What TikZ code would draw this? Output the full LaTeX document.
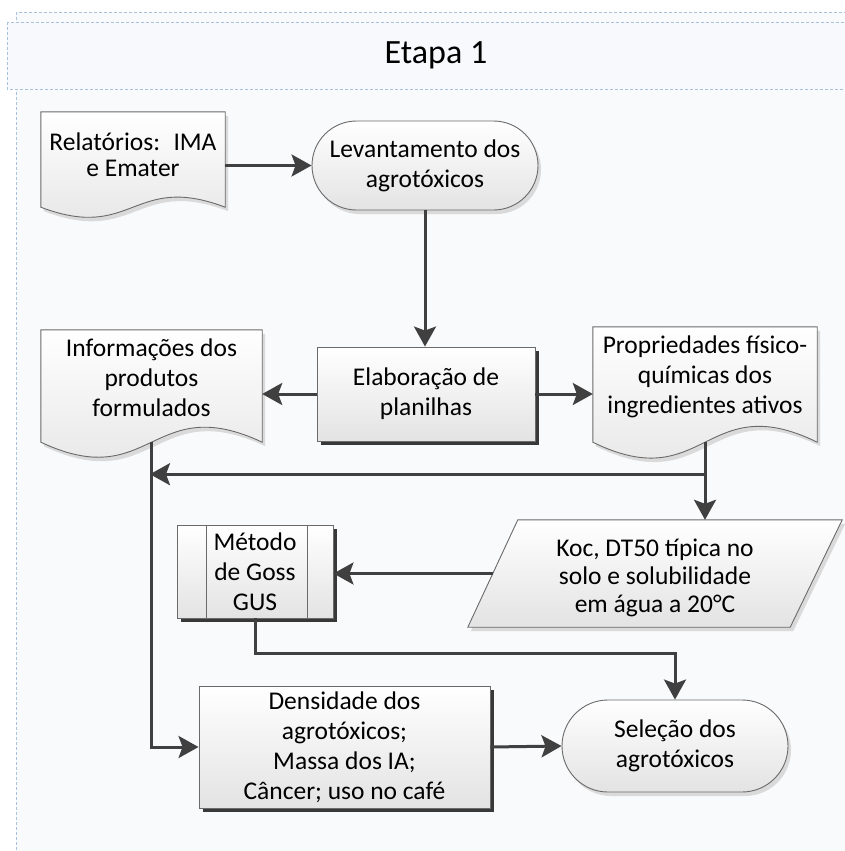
\documentclass[tikz,border=0pt]{standalone}
\usepackage{fontspec}
\setmainfont{Carlito}
\usetikzlibrary{arrows.meta,shapes.misc,calc,shadows}

\definecolor{wirecolor}{HTML}{404040}
\definecolor{rim}{HTML}{6A6A6A}
\definecolor{lane}{HTML}{A9C1DA}
\definecolor{lanefill}{HTML}{F8FAFC}
\definecolor{headfill}{HTML}{F7F9FC}
\definecolor{shadebottom}{HTML}{E3E3E3}
\definecolor{softshadow}{HTML}{DADADA}
\definecolor{hardshadow}{HTML}{383838}

% outline of a flowchart "document": straight top and sides, wavy bottom
\newcommand\docoutline[2]{(#1.north west) -- (#1.north east) -- (#1.south east)
  .. controls ($(#1.south)+(0,-#2)$) and ($(#1.south)+(0,#2)$) .. (#1.south west) -- cycle}

\tikzset{
  lanebox/.style={draw=lane, line width=0.8pt, dash pattern=on 3pt off 2pt},
  boxtext/.style={font=\fontsize{25.5}{30}\selectfont, align=center, inner sep=0pt},
  anchorbox/.style={rectangle, draw=none, inner sep=0pt},
  bodyfill/.style={draw=rim, line width=0.9pt, top color=white, bottom color=shadebottom},
  softdrop/.style={general shadow={fill=softshadow, shadow xshift=3pt, shadow yshift=-4pt}},
  harddrop/.style={general shadow={fill=hardshadow, shadow xshift=4pt, shadow yshift=-4pt}},
  process/.style={rectangle, bodyfill, harddrop, boxtext},
  terminal/.style={rounded rectangle, bodyfill, softdrop, boxtext},
  flow/.style={draw=wirecolor, line width=3pt, -{Stealth[length=20pt, width=22pt, inset=4pt]}},
}

\begin{document}
\begin{tikzpicture}[x=1pt, y=-1pt]
\useasboundingbox (0,0) rectangle (845,851);
\fill[white] (0,0) rectangle (845,851);

% swimlane with its header
\path[lanebox, fill=lanefill] (16,12) rectangle (851,860);
\path[lanebox, fill=headfill] (7,22) rectangle (851,89);
\node[font=\fontsize{34}{40}\selectfont] (stage) at (436,55) {Etapa 1};

% document: reports
\node[anchorbox, minimum width=184, minimum height=95] (rel) at (133,159.5) {};
\path[bodyfill, softdrop] \docoutline{rel}{35};
\node[boxtext, font=\fontsize{25.5}{26}\selectfont] (rel-text) at (133,155) {Relatórios:~ IMA\\e Emater};

% survey of pesticides
\node[terminal, minimum width=226, minimum height=89] (lev) at (425,165.5) {Levantamento dos\\agrotóxicos};

% spreadsheets
\node[process, minimum width=218, minimum height=94] (elab) at (426,394) {Elaboração de\\planilhas};

% document: product information
\node[anchorbox, minimum width=221, minimum height=112] (info) at (151.5,386) {};
\path[bodyfill, softdrop] \docoutline{info}{52};
\node[boxtext] (info-text) at (151.5,378) {Informações dos\\produtos\\formulados};

% document: physico-chemical properties
\node[anchorbox, minimum width=224, minimum height=115] (prop) at (705,384.5) {};
\path[bodyfill, softdrop] \docoutline{prop}{55};
\node[boxtext] (prop-text) at (705,377) {Propriedades físico-\\químicas dos\\ingredientes ativos};

% data parallelogram
\node[anchorbox, minimum width=374, minimum height=107] (par) at (655,573.5) {};
\path[bodyfill, softdrop] ($(par.north west)+(50,0)$) -- (par.north east)
  -- ($(par.south east)+(-52,0)$) -- (par.south west) -- cycle;
\coordinate (par-left) at ($(par.west)+(25.5,0)$);
\node[boxtext, font=\fontsize{25.5}{28}\selectfont] (par-text) at (655,578) {Koc, DT50 típica no\\solo e solubilidade\\em água a 20°C};

% predefined process: GUS method
\node[process, minimum width=156, minimum height=93] (met) at (255,571.5) {Método\\de Goss\\GUS};
\draw[draw=rim, line width=0.9pt]
  ($(met.north west)+(30,0)$) -- ($(met.south west)+(30,0)$)
  ($(met.north east)+(-26,0)$) -- ($(met.south east)+(-26,0)$);

% density / mass / cancer data
\node[process, minimum width=291, minimum height=122] (dens) at (344.5,747) {Densidade dos\\agrotóxicos;\\Massa dos IA;\\Câncer; uso no café};

% final selection
\node[terminal, minimum width=226, minimum height=92] (sel) at (675,746) {Seleção dos\\agrotóxicos};

% connectors
\draw[flow] (rel.east |- lev.west) -- (lev.west);
\draw[flow] (lev.south) -- (lev.south |- elab.north);
\draw[flow] (elab.west) -- (elab.west -| info.east);
\draw[flow] (elab.east) -- (elab.east -| prop.west);
\draw[flow] (prop.south) -- (prop.south |- par.north);
\path (prop.south) ++(0,32) coordinate (split);
\draw[flow, shorten >=-1.5pt] (split) -- (split -| info.south);
\draw[flow] (info.south) |- (dens.west);
\draw[flow] (par-left) -- (par-left -| met.east);
\draw[flow] (met.south) -- ++(0,35) -| (sel.north);
\draw[flow] (dens.east) -- (sel.west);
\end{tikzpicture}
\end{document}
